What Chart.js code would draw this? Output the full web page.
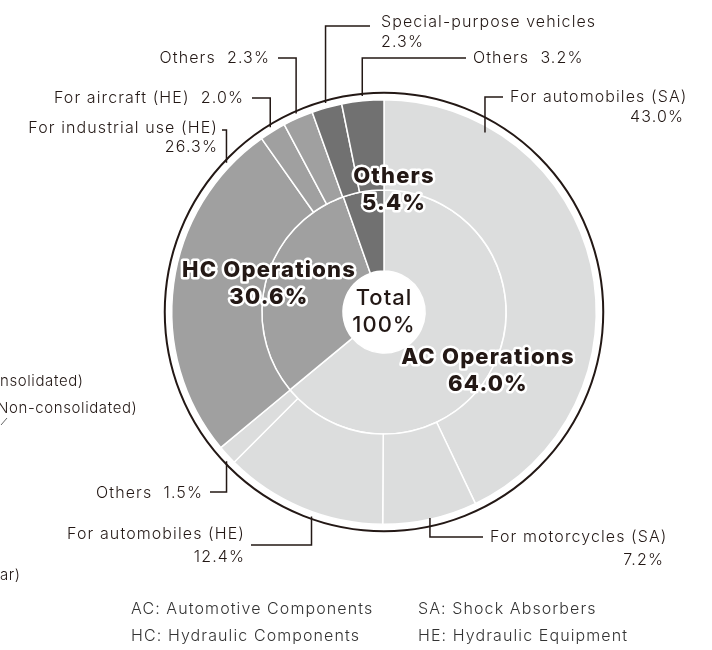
<!DOCTYPE html>
<html>
<head>
<meta charset="utf-8">
<script src="https://cdn.jsdelivr.net/npm/chart.js@4.4.1/dist/chart.umd.min.js"></script>
<style>
  html, body { margin: 0; padding: 0; background: #fff; }
  #wrap { position: relative; width: 712px; height: 650px; }
</style>
</head>
<body>
<div id="wrap"><canvas id="chart" width="712" height="650"></canvas></div>
<script>
// Sales composition by segment (inner ring) and by product (outer ring), %
const segmentLabels = ['AC Operations', 'HC Operations', 'Others'];
const segmentValues = [64.0, 30.6, 5.4];

const productLabels = [
    'For automobiles (SA)', 'For motorcycles (SA)', 'For automobiles (HE)', 'Others',
    'For industrial use (HE)', 'For aircraft (HE)', 'Others',
    'Special-purpose vehicles', 'Others',
];
const productValues = [43.0, 7.2, 12.4, 1.5, 26.3, 2.0, 2.3, 2.3, 3.2];
const productSegment = [0, 0, 0, 0, 1, 1, 1, 2, 2];

const footnotes = [
    ['AC: Automotive Components', 'SA: Shock Absorbers'],
    ['HC: Hydraulic Components', 'HE: Hydraulic Equipment'],
];

const SHADES = ['#dcdddd', '#a0a0a0', '#717171'];
const INK = '#231815';
const FONT = "Inter, 'DejaVu Sans', sans-serif";

// Callout layout for each outer slice: where on the arc the leader starts,
// the elbow height, where the horizontal run stops, and the text lines.
const callouts = [
    { frac: 0.19, r: 206, elbowY: 97,  lineEnd: 503, lines: [
        { text: 'For automobiles (SA)', x: 510, y: 97, align: 'left' },
        { text: '43.0%', x: 684, y: 117, align: 'right' }] },
    { frac: 0.5, r: 211, elbowY: 537, lineEnd: 483, lines: [
        { text: 'For motorcycles (SA)', x: 490, y: 537, align: 'left' },
        { text: '7.2%', x: 664, y: 560, align: 'right' }] },
    { frac: 0.43, r: 217, elbowY: 545, lineEnd: 251, lines: [
        { text: 'For automobiles (HE)', x: 245, y: 534, align: 'right' },
        { text: '12.4%', x: 245, y: 557, align: 'right' }] },
    { frac: 0.3, r: 217, elbowY: 492, lineEnd: 210, lines: [
        { text: 'Others  1.5%', x: 203, y: 493, align: 'right' }] },
    { frac: 0.88, r: 217, elbowY: 130, lineEnd: 222, lines: [
        { text: 'For industrial use (HE)', x: 218, y: 128, align: 'right' },
        { text: '26.3%', x: 218, y: 147, align: 'right' }] },
    { frac: 0.5, r: 217, elbowY: 98, lineEnd: 252, lines: [
        { text: 'For aircraft (HE)  2.0%', x: 244, y: 98, align: 'right' }] },
    { frac: 0.5, r: 217, elbowY: 58, lineEnd: 278, lines: [
        { text: 'Others  2.3%', x: 270, y: 58, align: 'right' }] },
    { frac: 0.5, r: 217, elbowY: 26, lineEnd: 370, lines: [
        { text: 'Special-purpose vehicles', x: 381, y: 22, align: 'left' },
        { text: '2.3%', x: 381, y: 42, align: 'left' }] },
    { frac: 0.5, r: 217, elbowY: 58, lineEnd: 466, lines: [
        { text: 'Others  3.2%', x: 473, y: 58, align: 'left' }] },
];

// Segment names printed on the inner ring
const segmentText = [
    { lines: ['AC Operations', '64.0%'], x: 488, y: 357 },
    { lines: ['HC Operations', '30.6%'], x: 269, y: 270 },
    { lines: ['Others', '5.4%'], x: 394, y: 176 },
];

const calloutPlugin = {
    id: 'callouts',
    afterDraw(chart) {
        const ctx = chart.ctx;
        const outer = chart.getDatasetMeta(0).data;
        const cx = outer[0].x, cy = outer[0].y;
        const R = outer[0].outerRadius;

        ctx.save();
        // frame ring around the chart
        ctx.strokeStyle = INK;
        ctx.lineWidth = 2;
        ctx.beginPath();
        ctx.arc(cx, cy, R + 7, 0, Math.PI * 2);
        ctx.stroke();

        // leaders and product labels
        ctx.lineWidth = 1.5;
        ctx.font = `300 16px ${FONT}`;
        ctx.letterSpacing = '1.1px';
        ctx.fillStyle = INK;
        ctx.textBaseline = 'middle';
        callouts.forEach((c, i) => {
            const arc = outer[i];
            const a = arc.startAngle + c.frac * (arc.endAngle - arc.startAngle);
            const ax = cx + c.r * Math.cos(a);
            const ay = cy + c.r * Math.sin(a);
            ctx.beginPath();
            ctx.moveTo(ax, ay);
            ctx.lineTo(ax, c.elbowY);
            ctx.lineTo(c.lineEnd, c.elbowY);
            ctx.stroke();
            c.lines.forEach(l => {
                ctx.textAlign = l.align;
                ctx.fillText(l.text, l.x, l.y);
            });
        });

        // segment names with a white halo
        ctx.font = `800 22px ${FONT}`;
        ctx.letterSpacing = '1.2px';
        ctx.textAlign = 'center';
        ctx.lineJoin = 'round';
        segmentText.forEach(s => {
            s.lines.forEach((t, k) => {
                const y = s.y + k * 27;
                ctx.strokeStyle = '#fff';
                ctx.lineWidth = 5;
                ctx.strokeText(t, s.x, y);
                ctx.fillStyle = INK;
                ctx.fillText(t, s.x, y);
            });
        });

        // centre total
        ctx.font = `500 22px ${FONT}`;
        ctx.letterSpacing = '1px';
        ctx.fillStyle = INK;
        ctx.fillText('Total', cx, cy - 14);
        ctx.fillText('100%', cx, cy + 13);

        // abbreviations
        ctx.font = `300 16px ${FONT}`;
        ctx.letterSpacing = '1.1px';
        ctx.textAlign = 'left';
        ctx.fillStyle = '#333';
        footnotes.forEach((row, k) => {
            ctx.fillText(row[0], 131, 609 + k * 27);
            ctx.fillText(row[1], 418, 609 + k * 27);
        });

        // neighbouring panel text at the left edge
        ctx.font = `300 15px ${FONT}`;
        ctx.fillStyle = INK;
        ctx.letterSpacing = '0.6px';
        ctx.fillText('nsolidated)', 0, 381);
        ctx.fillText('Non-consolidated)', -3, 408);
        ctx.fillText('ar)', 0, 575);
        ctx.strokeStyle = '#666';
        ctx.lineWidth = 1;
        ctx.beginPath();
        ctx.moveTo(1, 425);
        ctx.lineTo(7, 418);
        ctx.stroke();
        ctx.restore();
    },
};

new Chart(document.getElementById('chart'), {
    type: 'doughnut',
    data: {
        labels: productLabels,
        datasets: [
            {
                label: 'Products',
                data: productValues,
                backgroundColor: productSegment.map(s => SHADES[s]),
                weight: 90,
            },
            {
                label: 'Segments',
                data: segmentValues,
                backgroundColor: SHADES,
                weight: 81,
            },
        ],
    },
    options: {
        responsive: false,
        animation: false,
        events: [],
        cutout: 41,
        borderColor: '#fff',
        borderWidth: 1.5,
        hoverOffset: 0,
        layout: { padding: { left: 171, right: 115, top: 99, bottom: 125 } },
        plugins: {
            legend: { display: false },
            tooltip: { enabled: false },
        },
    },
    plugins: [calloutPlugin],
});
</script>
</body>
</html>
